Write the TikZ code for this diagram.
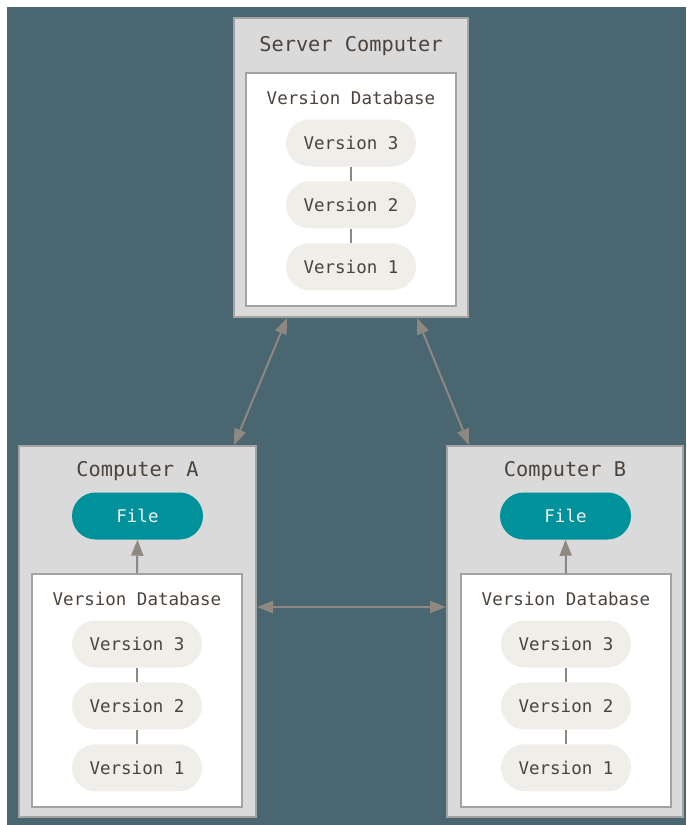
\documentclass[tikz,border=0pt]{standalone}
\usepackage{fontspec}
\setmonofont{DejaVu Sans Mono}
\usetikzlibrary{arrows.meta,calc,positioning}
\definecolor{slatebg}{HTML}{4A6670}
\definecolor{boxgray}{HTML}{DADADA}
\definecolor{boxline}{HTML}{A3A3A3}
\definecolor{pillfill}{HTML}{EFEEE8}
\definecolor{fileteal}{HTML}{00929B}
\definecolor{linkgray}{HTML}{8E8881}
\definecolor{inkbrown}{HTML}{4C433C}
\def\pillwid{130pt}
\def\pillhgt{47pt}
\def\pillgap{14.5pt}
\def\dbwid{210pt}
\def\dbhgt{233pt}

\begin{document}
\begin{tikzpicture}[
            x=1pt, y=-1pt, node distance=\pillgap,
            machine/.style={%
                rectangle, draw=boxline, fill=boxgray, line width=2pt,%
                inner sep=0pt%
            },
            database/.style={%
                rectangle, draw=boxline, fill=white, line width=1.5pt,%
                minimum width=\dbwid, minimum height=\dbhgt, inner sep=0pt%
            },
            title/.style={%
                text=inkbrown, font=\ttfamily\fontsize{20.3}{24}\selectfont%
            },
            label/.style={%
                text=inkbrown, font=\ttfamily\fontsize{17.5}{21}\selectfont%
            },
            version/.style={%
                rectangle, rounded corners=23.5pt, fill=pillfill,%
                minimum width=\pillwid, minimum height=\pillhgt,%
                text=inkbrown, font=\ttfamily\fontsize{17.5}{21}\selectfont%
            },
            file/.style={%
                rectangle, rounded corners=23.5pt, fill=fileteal,%
                minimum width=131pt, minimum height=\pillhgt,%
                text=white!94!black, font=\ttfamily\fontsize{17.5}{21}\selectfont%
            },
            chain/.style={draw=linkgray, line width=1.2pt},
            arrow/.style={draw=linkgray, line width=2pt,%
                -{Triangle[length=16pt,width=12pt]}},
            twoway/.style={draw=linkgray, line width=2pt,%
                {Triangle[length=16pt,width=12pt]}-{Triangle[length=16pt,width=12pt]}}
        ]

        % Background
        \useasboundingbox (0,0) rectangle (686,825);
        \fill[white] (0,0) rectangle (686,825);
        \fill[slatebg] (7,7) rectangle (686,825);

        % Server
        \node (srv) [machine, minimum width=234pt, minimum height=299pt] at (351,167.5) {};
        \node (srvname) [title] at (351,46) {Server Computer};
        \node (srvdb) [database] at (351,189.5) {};
        \node (srvdbname) [label] at (351,98) {Version Database};
        \node (srvv3) [version] at (351,143) {Version 3};
        \node (srvv2) [version, below=of srvv3] {Version 2};
        \node (srvv1) [version, below=of srvv2] {Version 1};

        % Computer A
        \node (compA) [machine, minimum width=237pt, minimum height=371pt] at (137.5,631.5) {};
        \node (compAname) [title] at (137.5,471) {Computer A};
        \node (fileA) [file] at (137.5,516) {File};
        \node (dbA) [database] at (137,690.5) {};
        \node (dbAname) [label] at (137,599) {Version Database};
        \node (av3) [version] at (137,644) {Version 3};
        \node (av2) [version, below=of av3] {Version 2};
        \node (av1) [version, below=of av2] {Version 1};

        % Computer B
        \node (compB) [machine, minimum width=236pt, minimum height=371pt] at (565,631.5) {};
        \node (compBname) [title] at (565,471) {Computer B};
        \node (fileB) [file] at (565.5,516) {File};
        \node (dbB) [database] at (566,690.5) {};
        \node (dbBname) [label] at (566,599) {Version Database};
        \node (bv3) [version] at (566,644) {Version 3};
        \node (bv2) [version, below=of bv3] {Version 2};
        \node (bv1) [version, below=of bv2] {Version 1};

        % Version chains
        \draw [chain] (srvv3) -- (srvv2);
        \draw [chain] (srvv2) -- (srvv1);
        \draw [chain] (av3) -- (av2);
        \draw [chain] (av2) -- (av1);
        \draw [chain] (bv3) -- (bv2);
        \draw [chain] (bv2) -- (bv1);

        % Checkouts
        \draw [arrow] (dbA.north) -- (fileA.south);
        \draw [arrow] (dbB.north) -- (fileB.south);

        % Syncing
        \coordinate (srvleft) at ([xshift=-64pt]srv.south);
        \coordinate (srvright) at ([xshift=66pt]srv.south);
        \coordinate (topA) at ([xshift=96.5pt]compA.north);
        \coordinate (topB) at ([xshift=-96pt]compB.north);
        \coordinate (sideA) at ([yshift=24.5pt]compA.east);
        \coordinate (sideB) at ([yshift=24.5pt]compB.west);

        \draw [twoway] (srvleft) -- (topA);
        \draw [twoway] (srvright) -- (topB);
        \draw [twoway] (sideA) -- (sideB);

        \end{tikzpicture}
\end{document}
